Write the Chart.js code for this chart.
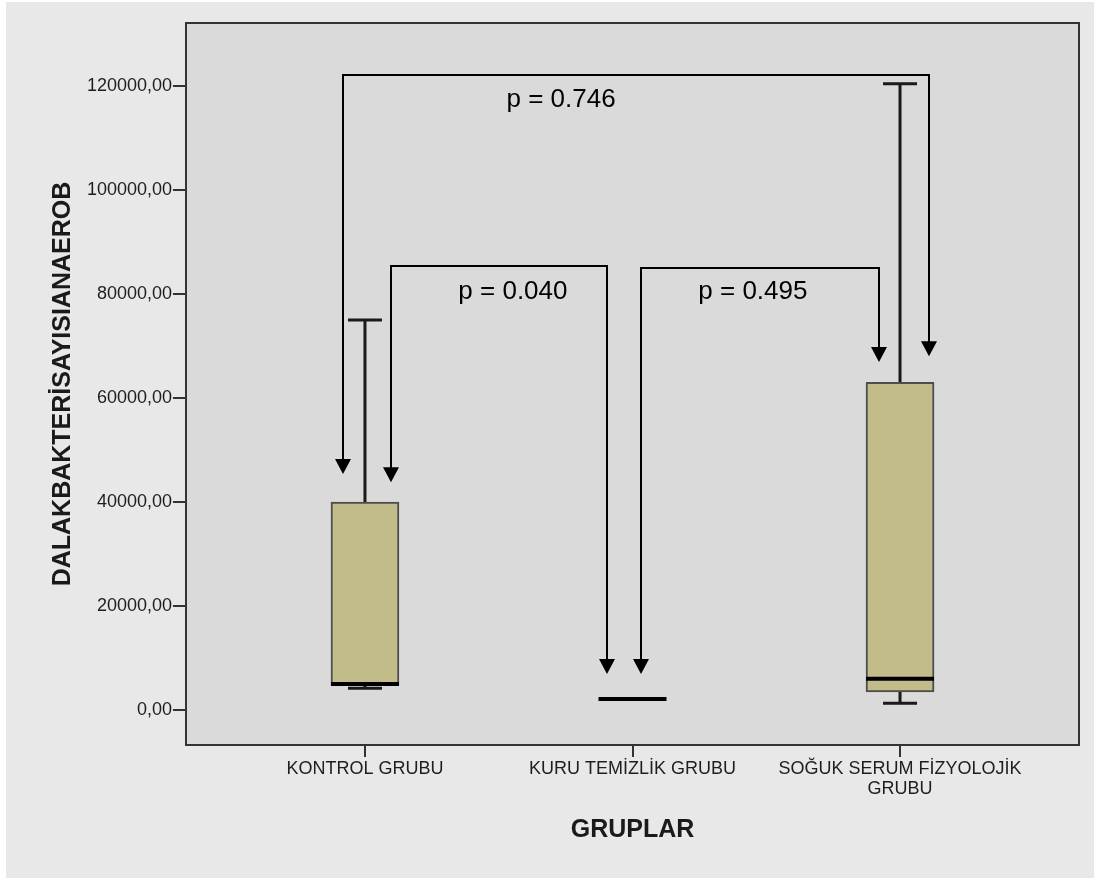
<!DOCTYPE html>
<html>
<head>
<meta charset="utf-8">
<script src="https://cdn.jsdelivr.net/npm/chart.js@4.4.1/dist/chart.umd.min.js"></script>
<style>
  html, body { margin: 0; padding: 0; background: #ffffff; }
  #wrap { position: absolute; left: 6px; top: 2px; width: 1088px; height: 876px; background: #e8e8e8; }
</style>
</head>
<body>
<div id="wrap"><canvas id="chart" width="1088" height="876"></canvas></div>
<script>
// groups and box plot values
const groups = ['KONTROL GRUBU', 'KURU TEMİZLİK GRUBU', ['SOĞUK SERUM FİZYOLOJİK', 'GRUBU']];
const whiskerLow = [4200, 2100, 1300];
const q1 = [4800, 2100, 3500];
const median = [5000, 2100, 6000];
const q3 = [40000, 2100, 63000];
const whiskerHigh = [75000, 2100, 120400];
const yTicks = [0, 20000, 40000, 60000, 80000, 100000, 120000];

// comparison brackets (x in group index units, y in data units)
const pLabels = ['p = 0.746', 'p = 0.040', 'p = 0.495'];
const bracketFrom = [-0.082, 0.097, 1.03];
const bracketTo = [2.108, 0.905, 1.92];
const bracketTop = [122100, 85400, 85000];
const arrowTipFrom = [45400, 43800, 6900];
const arrowTipTo = [68000, 6900, 66900];
const labelX = [0.733, 0.553, 1.45];
const labelY = [117300, 80400, 80400];

const boxWidth = 68;

// plot background and frame
const plotFrame = {
  id: 'plotFrame',
  beforeDraw(chart) {
    const { ctx, chartArea: a } = chart;
    ctx.save();
    ctx.fillStyle = '#dadada';
    ctx.fillRect(a.left, a.top, a.right - a.left, a.bottom - a.top);
    ctx.restore();
  },
  afterDraw(chart) {
    const { ctx, chartArea: a } = chart;
    ctx.save();
    ctx.strokeStyle = '#333333';
    ctx.lineWidth = 2;
    ctx.strokeRect(a.left, a.top, a.right - a.left, a.bottom - a.top);
    ctx.restore();
  }
};

// whiskers, caps and medians
const boxParts = {
  id: 'boxParts',
  beforeDatasetsDraw(chart) {
    const { ctx, scales: { x, y } } = chart;
    ctx.save();
    ctx.strokeStyle = '#1a1a1a';
    ctx.lineWidth = 3;
    groups.forEach((g, i) => {
      const px = x.getPixelForValue(i);
      ctx.beginPath();
      ctx.moveTo(px, y.getPixelForValue(q3[i]));
      ctx.lineTo(px, y.getPixelForValue(whiskerHigh[i]));
      ctx.moveTo(px, y.getPixelForValue(q1[i]));
      ctx.lineTo(px, y.getPixelForValue(whiskerLow[i]));
      ctx.stroke();
    });
    ctx.restore();
  },
  afterDatasetsDraw(chart) {
    const { ctx, scales: { x, y } } = chart;
    ctx.save();
    groups.forEach((g, i) => {
      const px = x.getPixelForValue(i);
      ctx.strokeStyle = '#1a1a1a';
      ctx.lineWidth = 3;
      ctx.beginPath();
      [whiskerLow[i], whiskerHigh[i]].forEach(v => {
        const py = y.getPixelForValue(v);
        ctx.moveTo(px - boxWidth / 4, py);
        ctx.lineTo(px + boxWidth / 4, py);
      });
      ctx.stroke();
      ctx.strokeStyle = '#000000';
      ctx.lineWidth = 4;
      ctx.beginPath();
      const my = y.getPixelForValue(median[i]);
      ctx.moveTo(px - boxWidth / 2, my);
      ctx.lineTo(px + boxWidth / 2, my);
      ctx.stroke();
    });
    ctx.restore();
  }
};

function arrowDown(ctx, px, tipY) {
  ctx.beginPath();
  ctx.moveTo(px - 8, tipY - 15);
  ctx.lineTo(px + 8, tipY - 15);
  ctx.lineTo(px, tipY);
  ctx.closePath();
  ctx.fill();
}

// p-value brackets with arrows
const brackets = {
  id: 'brackets',
  afterDraw(chart) {
    const { ctx, scales: { x, y } } = chart;
    ctx.save();
    ctx.strokeStyle = '#000000';
    ctx.fillStyle = '#000000';
    ctx.lineWidth = 2;
    pLabels.forEach((label, i) => {
      const x1 = Math.round(x.getPixelForValue(bracketFrom[i]));
      const x2 = Math.round(x.getPixelForValue(bracketTo[i]));
      const top = Math.round(y.getPixelForValue(bracketTop[i]));
      const t1 = y.getPixelForValue(arrowTipFrom[i]);
      const t2 = y.getPixelForValue(arrowTipTo[i]);
      ctx.beginPath();
      ctx.moveTo(x1, t1 - 14);
      ctx.lineTo(x1, top);
      ctx.lineTo(x2, top);
      ctx.lineTo(x2, t2 - 14);
      ctx.stroke();
      arrowDown(ctx, x1, t1);
      arrowDown(ctx, x2, t2);
      ctx.font = '26px "Liberation Sans", Arial, sans-serif';
      ctx.textAlign = 'center';
      ctx.textBaseline = 'middle';
      ctx.fillText(label, x.getPixelForValue(labelX[i]), y.getPixelForValue(labelY[i]));
    });
    ctx.restore();
  }
};

const ctx = document.getElementById('chart').getContext('2d');
new Chart(ctx, {
  type: 'bar',
  data: {
    datasets: [{
      data: groups.map((g, i) => ({ x: i, y: [q1[i], q3[i]] })),
      backgroundColor: '#c1bc8a',
      borderColor: '#4d4d4d',
      borderWidth: 2,
      borderSkipped: false,
      barThickness: boxWidth
    }]
  },
  options: {
    responsive: false,
    animation: false,
    layout: { padding: { left: 0, top: 21, right: 15, bottom: 0 } },
    plugins: { legend: { display: false }, tooltip: { enabled: false } },
    scales: {
      x: {
        type: 'linear',
        min: -0.669,
        max: 2.669,
        offset: false,
        afterBuildTicks: scale => { scale.ticks = groups.map((g, i) => ({ value: i })); },
        afterFit: scale => { scale.height = 133; },
        grid: { offset: false, drawOnChartArea: false, drawTicks: true, tickLength: 12, color: '#333333', lineWidth: 2 },
        border: { display: false },
        ticks: {
          autoSkip: false,
          maxRotation: 0,
          minRotation: 0,
          padding: 2,
          color: '#1e1e1e',
          font: { family: '"Liberation Sans", Arial, sans-serif', size: 18, lineHeight: 1.12 },
          callback: v => groups[v]
        },
        title: {
          display: true,
          text: 'GRUPLAR',
          color: '#1a1a1a',
          font: { family: '"Liberation Sans", Arial, sans-serif', size: 25, weight: 'bold' },
          padding: { top: 0, bottom: 33 }
        }
      },
      y: {
        min: -6730,
        max: 132100,
        afterBuildTicks: scale => { scale.ticks = yTicks.map(v => ({ value: v })); },
        afterFit: scale => { scale.width = 180; },
        grid: { drawOnChartArea: false, drawTicks: true, tickLength: 13, color: '#333333', lineWidth: 2 },
        border: { display: false },
        ticks: {
          padding: 1,
          color: '#1e1e1e',
          font: { family: '"Liberation Sans", Arial, sans-serif', size: 18 },
          callback: v => v.toFixed(2).replace('.', ',')
        },
        title: {
          display: true,
          text: 'DALAKBAKTERİSAYISIANAEROB',
          color: '#1a1a1a',
          font: { family: '"Liberation Sans", Arial, sans-serif', size: 25, weight: 'bold' },
          padding: { top: 42, bottom: 0 }
        }
      }
    }
  },
  plugins: [plotFrame, boxParts, brackets]
});
</script>
</body>
</html>
